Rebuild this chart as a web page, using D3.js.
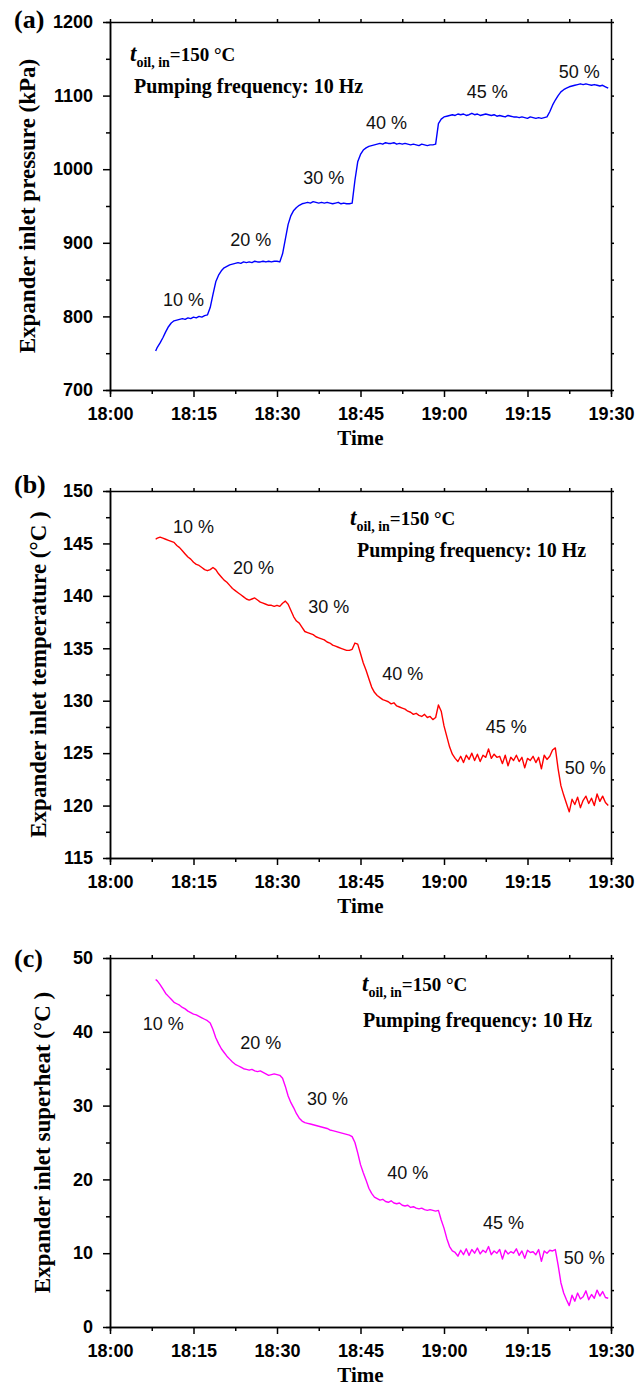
<!DOCTYPE html>
<html>
<head>
<meta charset="utf-8">
<script src="https://cdn.jsdelivr.net/npm/d3@7"></script>
<style>
  body { margin: 0; background: #fff; }
  svg { display: block; }
</style>
</head>
<body>
<script>
// minutes after 18:00
const minutes = [
  8.2, 8.5, 9, 9.5, 10, 10.5, 11, 11.5, 12, 12.5,
  13, 13.5, 14, 14.5, 15, 15.5, 16, 16.5, 17, 17.5,
  18, 18.5, 19, 19.5, 20, 20.5, 21, 21.5, 22, 22.5,
  23, 23.5, 24, 24.5, 25, 25.5, 26, 26.5, 27, 27.5,
  28, 28.5, 29, 29.5, 30, 30.5, 31, 31.5, 32, 32.5,
  33, 33.5, 34, 34.5, 35, 35.5, 36, 36.5, 37, 37.5,
  38, 38.5, 39, 39.5, 40, 40.5, 41, 41.5, 42, 42.5,
  43, 43.5, 44, 44.5, 45, 45.5, 46, 46.5, 47, 47.5,
  48, 48.5, 49, 49.5, 50, 50.5, 51, 51.5, 52, 52.5,
  53, 53.5, 54, 54.5, 55, 55.5, 56, 56.5, 57, 57.5,
  58, 58.5, 59, 59.5, 60, 60.5, 61, 61.5, 62, 62.5,
  63, 63.5, 64, 64.5, 65, 65.5, 66, 66.5, 67, 67.5,
  68, 68.5, 69, 69.5, 70, 70.5, 71, 71.5, 72, 72.5,
  73, 73.5, 74, 74.5, 75, 75.5, 76, 76.5, 77, 77.5,
  78, 78.5, 79, 79.5, 80, 80.5, 81, 81.5, 82, 82.5,
  83, 83.5, 84, 84.5, 85, 85.5, 86, 86.5, 87, 87.5,
  88, 88.5, 89, 89.5
];

// expander inlet pressure, kPa
const pressure = [
  753, 758, 764, 771, 779, 786, 791, 794, 795, 796,
  797, 796, 798, 797, 799, 798, 800, 799, 801, 802,
  812, 830, 847, 856, 862, 866, 868, 870, 871, 872,
  873, 872, 874, 873, 874, 873, 875, 874, 874, 875,
  874, 875, 874, 875, 875, 874, 885, 905, 925, 937,
  944, 948, 951, 953, 954, 955, 954, 956, 955, 954,
  955, 954, 955, 954, 953, 954, 955, 953, 954, 953,
  953, 954, 985, 1010, 1020, 1026, 1029, 1031, 1032, 1033,
  1034, 1035, 1034, 1036, 1035, 1035, 1036, 1034, 1035, 1034,
  1035, 1034, 1033, 1034, 1033, 1032, 1034, 1033, 1032, 1033,
  1033, 1034, 1062, 1068, 1071, 1072, 1073, 1074, 1073, 1075,
  1074, 1075, 1073, 1074, 1076, 1074, 1075, 1073, 1074, 1075,
  1074, 1073, 1074, 1072, 1073, 1072, 1071, 1073, 1072, 1071,
  1071, 1070, 1071, 1070, 1069, 1071, 1070, 1069, 1070, 1069,
  1070, 1071, 1078, 1087, 1094, 1100, 1105, 1108, 1110, 1112,
  1113, 1114, 1115, 1116, 1115, 1116, 1115, 1114, 1115, 1114,
  1113, 1114, 1112, 1110
];

// expander inlet temperature, °C
const temperature = [
  145.4, 145.5, 145.6, 145.5, 145.4, 145.3, 145.2, 145.1, 144.8, 144.6,
  144.3, 144.0, 143.7, 143.5, 143.2, 143.0, 142.9, 142.7, 142.5, 142.4,
  142.5, 142.7, 142.5, 142.1, 141.8, 141.5, 141.3, 141.0, 140.7, 140.5,
  140.3, 140.1, 139.9, 139.7, 139.6, 139.7, 139.8, 139.6, 139.4, 139.3,
  139.2, 139.1, 139.1, 139.0, 139.1, 139.0, 139.3, 139.5, 139.2, 138.6,
  138.0, 137.6, 137.4, 137.0, 136.6, 136.5, 136.4, 136.3, 136.1, 136.0,
  135.9, 135.8, 135.6, 135.5, 135.3, 135.2, 135.1, 135.0, 134.9, 134.8,
  134.8, 134.9, 135.5, 135.4, 134.5, 133.6, 132.9, 132.1, 131.3, 130.8,
  130.5, 130.3, 130.1, 130.0, 129.9, 129.7, 129.8, 129.5, 129.4, 129.3,
  129.2, 129.0, 128.9, 128.7, 128.8, 128.6, 128.5, 128.7, 128.4, 128.5,
  128.2, 128.4, 129.6, 129.0, 127.6, 126.6, 125.6, 124.9, 124.5, 124.2,
  124.7, 124.1, 124.8, 124.4, 125.0, 124.3, 124.9, 124.2, 124.8, 124.6,
  125.4, 124.5, 124.9, 124.6, 124.7, 124.0, 124.8, 123.8, 124.6, 124.3,
  124.8, 124.2, 124.6, 123.6, 124.5, 124.3, 124.7, 124.1, 124.6, 123.5,
  124.8, 124.4, 124.7, 125.3, 125.5, 123.5, 121.9, 121.0, 120.2, 119.4,
  120.6, 120.1, 120.8, 119.8, 120.5, 120.9, 120.2, 120.7, 120.0, 121.1,
  120.4, 120.9, 120.3, 120.0
];

// expander inlet superheat, °C
const superheat = [
  47.1, 46.9, 46.4, 45.8, 45.2, 44.8, 44.4, 44.0, 43.8, 43.6,
  43.3, 43.1, 42.8, 42.6, 42.4, 42.3, 42.1, 41.9, 41.7, 41.5,
  41.2, 40.3, 39.2, 38.4, 37.7, 37.2, 36.7, 36.3, 35.9, 35.6,
  35.4, 35.2, 35.0, 34.9, 34.8, 34.9, 34.7, 34.6, 34.7, 34.5,
  34.3, 34.1, 34.2, 34.3, 34.2, 34.1, 33.7, 32.6, 31.3, 30.4,
  29.7, 28.9, 28.3, 27.9, 27.7, 27.6, 27.5, 27.4, 27.3, 27.2,
  27.1, 27.0, 26.9, 26.7, 26.6, 26.5, 26.4, 26.3, 26.2, 26.1,
  26.0, 25.8, 25.0, 23.6, 22.0, 20.9, 19.9, 18.8, 18.1, 17.6,
  17.4, 17.2, 17.3, 17.0, 16.9, 17.1, 16.8, 16.7, 16.8, 16.5,
  16.4, 16.5, 16.2, 16.3, 16.1, 16.0, 16.1, 15.9, 15.8, 15.9,
  15.8, 15.7, 15.8, 14.5, 13.4, 12.0, 10.9, 10.3, 10.1, 9.6,
  10.4, 9.8, 10.6, 9.7, 10.5, 10.0, 10.7, 9.9, 10.4, 10.1,
  10.9, 9.8, 10.3, 10.0, 10.5, 9.2, 10.4, 9.9, 10.2, 10.0,
  10.6, 9.7, 10.3, 9.3, 10.4, 10.1, 10.2, 9.8, 10.5, 8.9,
  10.3, 10.0, 10.4, 10.3, 10.5, 8.4, 6.0, 4.6, 3.7, 2.9,
  4.3, 3.5, 4.6, 3.8, 4.1, 4.9, 3.7, 4.4, 3.9, 5.0,
  4.2, 4.8, 4.0, 3.9
];

const timeTickMinutes = [0, 15, 30, 45, 60, 75, 90];
const timeTicks = ['18:00', '18:15', '18:30', '18:45', '19:00', '19:15', '19:30'];
const openings = ['10 %', '20 %', '30 %', '40 %', '45 %', '50 %'];

const pressureTicks = [700, 800, 900, 1000, 1100, 1200];
const temperatureTicks = [115, 120, 125, 130, 135, 140, 145, 150];
const superheatTicks = [0, 10, 20, 30, 40, 50];

const serif = '"Liberation Serif", "Times New Roman", serif';
const sans = '"Liberation Sans", Arial, Helvetica, sans-serif';

const width = 644;
const height = 1387;
const plotLeft = 110;
const plotRight = 611;

const panels = [
  {
    tag: '(a)', tagY: 28,
    top: 22, bottom: 390,
    values: pressure, color: '#0000ff',
    ticks: pressureTicks, minorStep: 50,
    label: 'Expander inlet pressure (kPa)', labelX: 27,
    noteX: 130, noteY: 61, pumpX: 134, pumpY: 93,
    // label anchors in data units (minute, value)
    pct: [[9.5, 823], [21.6, 905], [34.7, 989], [46.0, 1064], [64.1, 1105], [80.6, 1133]]
  },
  {
    tag: '(b)', tagY: 493,
    top: 491, bottom: 858,
    values: temperature, color: '#ff0000',
    ticks: temperatureTicks, minorStep: 2.5,
    label: 'Expander inlet temperature (°C )', labelX: 38,
    noteX: 350, noteY: 525, pumpX: 357, pumpY: 557,
    pct: [[11.3, 146.6], [22.1, 142.75], [35.6, 139.0], [48.9, 132.6], [67.5, 127.5], [81.7, 123.6]]
  },
  {
    tag: '(c)', tagY: 967,
    top: 958, bottom: 1327,
    values: superheat, color: '#ff00ff',
    ticks: superheatTicks, minorStep: 5,
    label: 'Expander inlet superheat (°C )', labelX: 42,
    noteX: 362, noteY: 991, pumpX: 363, pumpY: 1027,
    pct: [[5.9, 41.1], [23.4, 38.6], [35.4, 31.0], [49.8, 20.9], [67.0, 14.2], [81.5, 9.35]]
  }
];

const svg = d3.select('body').append('svg')
  .attr('width', width)
  .attr('height', height)
  .style('background', '#fff');

const x = d3.scaleLinear().domain([0, 90]).range([plotLeft, plotRight]);
const minorMinutes = d3.range(7.5, 90, 15);

const styleAxis = g => {
  g.select('.domain').attr('stroke', '#000').attr('stroke-width', 1.5);
  g.selectAll('.tick line').attr('stroke', '#000').attr('stroke-width', 1.5);
  g.selectAll('.tick text')
    .attr('fill', '#000')
    .style('font-family', sans)
    .style('font-weight', 'bold')
    .style('font-size', '18px');
};

panels.forEach(p => {
  const lo = p.ticks[0];
  const hi = p.ticks[p.ticks.length - 1];
  const y = d3.scaleLinear().domain([lo, hi]).range([p.bottom, p.top]);
  const minorY = d3.range(lo + p.minorStep, hi, p.minorStep * 2);
  const g = svg.append('g');

  // trace
  const line = d3.line()
    .x(d => x(d[0]))
    .y(d => y(d[1]));

  g.append('path')
    .datum(minutes.map((m, i) => [m, p.values[i]]))
    .attr('d', line)
    .attr('fill', 'none')
    .attr('stroke', p.color)
    .attr('stroke-width', 1.4)
    .attr('stroke-linejoin', 'round');

  // bottom axis
  g.append('g')
    .attr('transform', `translate(0, ${p.bottom})`)
    .call(d3.axisBottom(x).tickValues(minorMinutes).tickSize(4).tickFormat(''))
    .call(styleAxis);
  g.append('g')
    .attr('transform', `translate(0, ${p.bottom})`)
    .call(d3.axisBottom(x)
      .tickValues(timeTickMinutes)
      .tickFormat((d, i) => timeTicks[i])
      .tickSize(7).tickSizeOuter(0).tickPadding(10))
    .call(styleAxis);

  // top axis
  g.append('g')
    .attr('transform', `translate(0, ${p.top})`)
    .call(d3.axisTop(x).tickValues(timeTickMinutes.concat(minorMinutes)).tickSize(3).tickSizeOuter(0).tickFormat(''))
    .call(styleAxis);

  // left axis
  g.append('g')
    .attr('transform', `translate(${plotLeft}, 0)`)
    .call(d3.axisLeft(y).tickValues(minorY).tickSize(4).tickFormat(''))
    .call(styleAxis);
  g.append('g')
    .attr('transform', `translate(${plotLeft}, 0)`)
    .call(d3.axisLeft(y).tickValues(p.ticks).tickSize(7).tickSizeOuter(0).tickPadding(10).tickFormat(d3.format('d')))
    .call(styleAxis);

  // right axis
  g.append('g')
    .attr('transform', `translate(${plotRight}, 0)`)
    .call(d3.axisRight(y).tickValues(p.ticks.concat(minorY)).tickSize(3).tickSizeOuter(0).tickFormat(''))
    .call(styleAxis);

  // panel tag
  g.append('text')
    .attr('x', 14)
    .attr('y', p.tagY)
    .style('font-family', serif)
    .style('font-weight', 'bold')
    .style('font-size', '26px')
    .text(p.tag);

  // axis titles
  g.append('text')
    .attr('x', (plotLeft + plotRight) / 2)
    .attr('y', p.bottom + 55)
    .attr('text-anchor', 'middle')
    .style('font-family', serif)
    .style('font-weight', 'bold')
    .style('font-size', '21px')
    .text('Time');

  g.append('text')
    .attr('transform', `translate(${p.labelX}, ${(p.top + p.bottom) / 2}) rotate(-90)`)
    .attr('text-anchor', 'middle')
    .attr('dy', '0.35em')
    .style('font-family', serif)
    .style('font-weight', 'bold')
    .style('font-size', '23px')
    .text(p.label);

  // condition notes
  const note = g.append('text')
    .attr('x', p.noteX)
    .attr('y', p.noteY)
    .style('font-family', serif)
    .style('font-weight', 'bold')
    .style('font-size', '19px');
  note.append('tspan').style('font-style', 'italic').style('font-size', '23px').text('t');
  note.append('tspan').attr('dy', 6).style('font-size', '14px').text('oil, in');
  note.append('tspan').attr('dy', -6).text('=150 °C');

  g.append('text')
    .attr('x', p.pumpX)
    .attr('y', p.pumpY)
    .style('font-family', serif)
    .style('font-weight', 'bold')
    .style('font-size', '20px')
    .text('Pumping frequency: 10 Hz');

  // valve opening labels
  g.selectAll('text.pct')
    .data(p.pct)
    .enter()
    .append('text')
    .attr('class', 'pct')
    .attr('x', d => x(d[0]))
    .attr('y', d => y(d[1]))
    .attr('dy', '0.36em')
    .style('font-family', sans)
    .style('font-size', '18px')
    .attr('fill', '#111')
    .text((d, i) => openings[i]);
});
</script>
</body>
</html>
